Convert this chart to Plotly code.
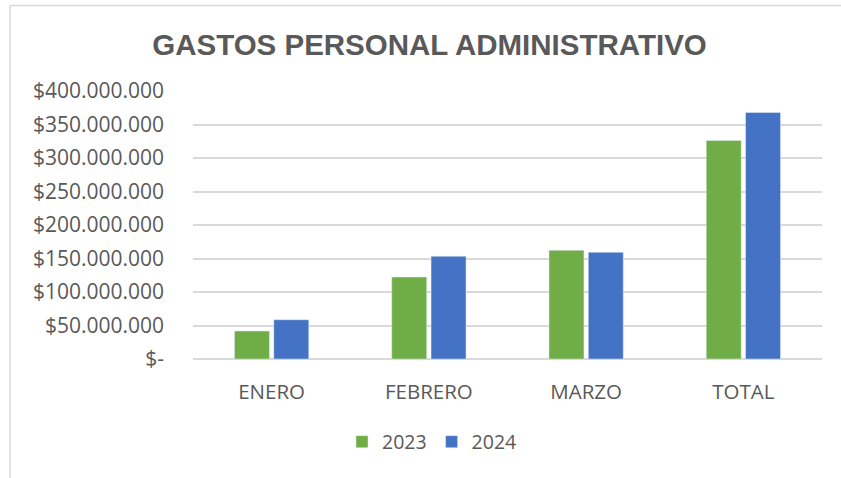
import plotly.graph_objects as go

meses = ["ENERO", "FEBRERO", "MARZO", "TOTAL"]
gastos_2023 = [41.8e6, 122.3e6, 162.2e6, 326.3e6]
gastos_2024 = [58.6e6, 153.4e6, 159.3e6, 368.0e6]

tick_vals = [0, 50e6, 100e6, 150e6, 200e6, 250e6, 300e6, 350e6, 400e6]
tick_text = ["$-", "$50.000.000", "$100.000.000", "$150.000.000", "$200.000.000",
             "$250.000.000", "$300.000.000", "$350.000.000", "$400.000.000"]

GRIS = "#595959"
W, H = 841, 478
# plot area in pixels
L, R, T, B = 193, 822, 91, 359


def px(x):
    return (x - L) / (R - L)


def py(y):
    return (B - y) / (B - T)


fig = go.Figure()
fig.add_trace(go.Bar(x=meses, y=gastos_2023, name="2023", marker_color="#70AD47"))
fig.add_trace(go.Bar(x=meses, y=gastos_2024, name="2024", marker_color="#4472C4"))

fig.update_layout(
    width=W, height=H,
    margin=dict(l=L, r=W - R, t=T, b=H - B),
    paper_bgcolor="white", plot_bgcolor="white",
    font=dict(family="Open Sans", size=20.5, color=GRIS),
    barmode="group", bargap=0.5, bargroupgap=0.11,
    title=dict(text="<b>GASTOS PERSONAL ADMINISTRATIVO</b>",
               font=dict(family="Liberation Sans", size=29.5, color=GRIS),
               x=429.5 / W, xanchor="center", y=1 - 45 / H, yanchor="middle"),
    legend=dict(orientation="h", x=px(432), xanchor="center", y=py(442), yanchor="middle",
                font=dict(size=19.5, color=GRIS), traceorder="normal"),
    showlegend=True,
)
fig.update_xaxes(showgrid=False, showline=False, ticks="", ticklabelstandoff=18)
fig.update_yaxes(range=[0, 400e6], tickvals=tick_vals, ticktext=tick_text,
                 tickfont=dict(size=21),
                 showgrid=True, gridcolor="#D9D9D9", gridwidth=1.5,
                 zeroline=True, zerolinecolor="#D9D9D9", zerolinewidth=1.5,
                 ticklabelstandoff=28)

# chart area frame (top and left edges visible)
fig.add_shape(type="line", xref="paper", yref="paper",
              x0=px(10), x1=px(W), y0=py(5.5), y1=py(5.5),
              line=dict(color="#D9D9D9", width=1.5))
fig.add_shape(type="line", xref="paper", yref="paper",
              x0=px(10), x1=px(10), y0=py(5.5), y1=py(H),
              line=dict(color="#D9D9D9", width=1.5))

# drop the default body margin so the figure sits at the page corner
fig.write_html("out.html", config={"displayModeBar": False},
               post_script="document.body.style.margin='0';")
